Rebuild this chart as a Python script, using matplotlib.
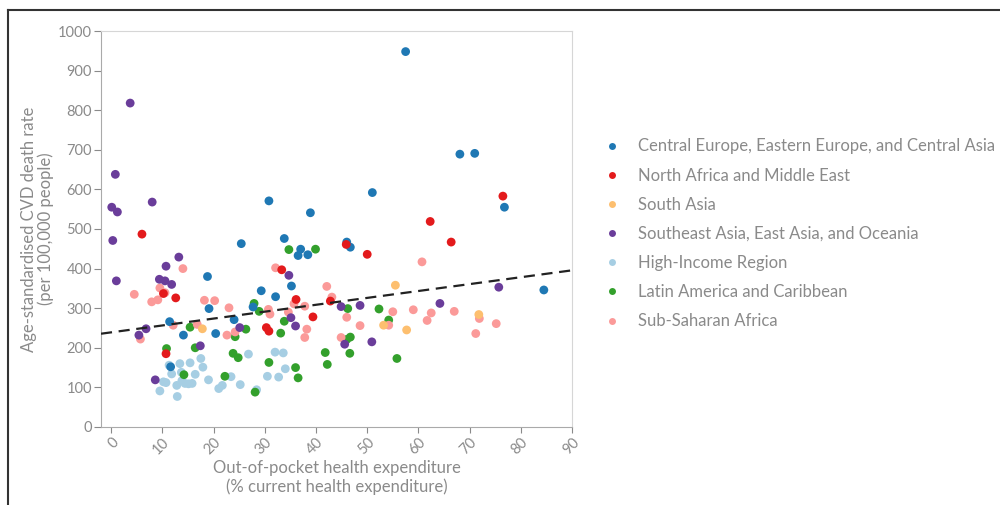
import numpy as np
import matplotlib
matplotlib.use("Agg")
import matplotlib.pyplot as plt
from matplotlib.lines import Line2D

plt.rcParams['font.family'] = ['Lato', 'DejaVu Sans']

# Region data: (out-of-pocket %, CVD death rate)
central_europe_x = [57.5, 68.1, 71.0, 76.8, 51.0, 84.5, 30.8, 38.9, 33.8, 25.4, 37.0, 36.5, 38.4,
                    46.0, 46.7, 18.8, 35.2, 29.3, 32.1, 19.1, 27.7, 24.0, 11.4, 14.1, 20.4, 11.6]
central_europe_y = [948, 689, 691, 555, 592, 346, 571, 541, 476, 463, 449, 433, 435,
                    467, 454, 380, 356, 344, 329, 299, 303, 271, 266, 232, 236, 152]

north_africa_x = [10.7, 6.0, 12.6, 10.2, 30.3, 30.8, 33.3, 36.1, 39.4, 42.8, 45.9, 50.0, 62.3, 66.4, 76.5]
north_africa_y = [185, 487, 326, 337, 251, 242, 397, 322, 278, 318, 461, 436, 519, 467, 583]

south_asia_x = [17.8, 55.5, 53.2, 57.7, 71.8]
south_asia_y = [248, 358, 257, 245, 284]

se_asia_x = [3.7, 0.8, 0.1, 1.2, 8.0, 0.3, 1.0, 13.2, 10.7, 9.4, 10.5, 11.8, 6.8, 5.4, 8.6,
             17.4, 25.1, 34.7, 35.1, 36.0, 44.9, 48.6, 45.6, 50.9, 64.2, 75.7]
se_asia_y = [818, 638, 555, 543, 568, 471, 369, 429, 406, 373, 369, 360, 248, 232, 119,
             205, 251, 383, 276, 255, 304, 307, 209, 215, 312, 353]

high_income_x = [11.3, 13.4, 15.4, 17.5, 17.9, 11.8, 13.7, 16.4, 19.0, 13.8, 12.8, 14.4, 15.1, 15.8,
                 10.2, 10.7, 9.5, 12.9, 21.0, 21.7, 23.4, 25.2, 26.8, 32.0, 33.6, 30.5, 32.7,
                 34.0, 28.4]
high_income_y = [156, 160, 162, 173, 151, 134, 138, 133, 119, 117, 105, 110, 109, 110,
                 114, 112, 91, 77, 97, 105, 127, 107, 184, 189, 187, 128, 126,
                 147, 94]

latin_america_x = [34.7, 39.9, 15.4, 10.8, 16.4, 24.2, 26.3, 27.9, 28.9, 33.8, 33.1, 23.8, 24.8, 22.2,
                   14.2, 28.1, 30.8, 36.0, 36.5, 41.8, 42.2, 46.2, 52.3, 54.2, 46.0, 46.7, 46.6, 55.8]
latin_america_y = [448, 449, 252, 198, 200, 228, 247, 312, 292, 267, 237, 186, 175, 128,
                   132, 88, 163, 150, 124, 188, 158, 299, 298, 270, 221, 227, 186, 173]

sub_saharan_x = [14.0, 4.5, 9.5, 10.5, 7.9, 9.1, 18.2, 20.2, 23.0, 12.1, 5.7, 16.8, 22.6, 24.2,
                 30.7, 31.0, 32.1, 35.7, 37.8, 34.6, 38.2, 37.8, 42.1, 43.1, 46.0, 44.9, 48.6,
                 55.0, 59.0, 60.7, 62.5, 61.7, 67.0, 71.9, 75.2, 71.2, 54.2]
sub_saharan_y = [400, 335, 351, 339, 316, 321, 320, 319, 301, 257, 222, 259, 232, 240,
                 297, 285, 402, 311, 305, 290, 247, 226, 355, 328, 277, 226, 256,
                 291, 296, 417, 288, 269, 292, 274, 261, 236, 257]

regions = ['Central Europe, Eastern Europe, and Central Asia', 'North Africa and Middle East',
           'South Asia', 'Southeast Asia, East Asia, and Oceania', 'High-Income Region',
           'Latin America and Caribbean', 'Sub-Saharan Africa']
colors = ['#1f78b4', '#e31a1c', '#fdbf6f', '#6a3d9a', '#a6cee3', '#33a02c', '#fb9a99']
xs = [central_europe_x, north_africa_x, south_asia_x, se_asia_x, high_income_x, latin_america_x, sub_saharan_x]
ys = [central_europe_y, north_africa_y, south_asia_y, se_asia_y, high_income_y, latin_america_y, sub_saharan_y]

# plotting order (back to front)
draw_order = [4, 5, 6, 3, 0, 2, 1]

trend_intercept = 239
trend_slope = 1.74

grey = '#8a8a8a'

fig = plt.figure(figsize=(10, 5.05), dpi=100)
ax = fig.add_axes([0.101, 0.1545, 0.471, 0.7841])

for i in draw_order:
    ax.scatter(xs[i], ys[i], s=40, color=colors[i], edgecolors='none', zorder=3)

# regression line
tx = np.array([-2, 90])
ax.plot(tx, trend_intercept + trend_slope * tx, color='#222222', linestyle=(0, (5, 3)), lw=1.6, zorder=4)

ax.set_xlim(-2, 90)
ax.set_ylim(0, 1000)
ax.set_xticks(range(0, 91, 10))
ax.set_yticks(range(0, 1001, 100))
ax.tick_params(axis='x', colors=grey, labelsize=10.5, length=4, labelrotation=45, pad=2)
ax.tick_params(axis='y', colors=grey, labelsize=10.5, length=5, pad=1.5)
for lab in ax.get_xticklabels():
    lab.set_ha('right')
    lab.set_va('top')
    lab.set_rotation_mode('anchor')
for side in ['left', 'bottom']:
    ax.spines[side].set_color('#aaaaaa')
for side in ['top', 'right']:
    ax.spines[side].set_color('#d6d6d6')

ax.set_xlabel('Out-of-pocket health expenditure\n(% current health expenditure)', color=grey,
              fontsize=12, labelpad=2, linespacing=1.2)
ax.set_ylabel('Age-standardised CVD death rate\n(per 100,000 people)', color=grey,
              fontsize=12, labelpad=3, linespacing=1.0)

handles = [Line2D([], [], marker='o', linestyle='none', markersize=5, color=c, markeredgewidth=0)
           for c in colors]
leg = fig.legend(handles, regions, loc='upper left', bbox_to_anchor=(0.589, 0.7555), frameon=False,
                 fontsize=12, labelspacing=0.79, handletextpad=1.05, handlelength=1.0)
for t in leg.get_texts():
    t.set_color(grey)

# outer frame
fig.add_artist(Line2D([0.008, 0.008], [0, 0.98], transform=fig.transFigure, color='#333333', lw=1.5))
fig.add_artist(Line2D([0.008, 1.0], [0.98, 0.98], transform=fig.transFigure, color='#333333', lw=1.5))

fig.savefig('out.png', dpi=100)
